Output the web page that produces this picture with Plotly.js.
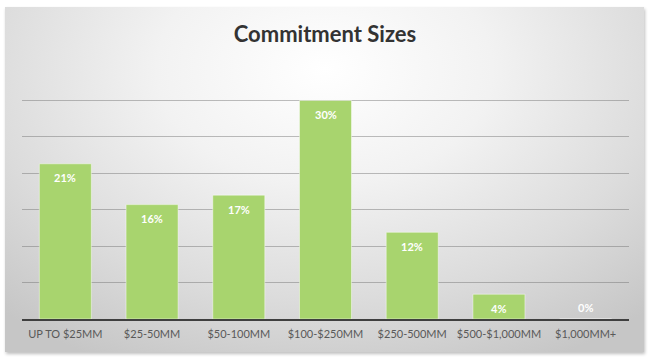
<!DOCTYPE html>
<html>
<head>
<meta charset="utf-8">
<script src="https://cdn.plot.ly/plotly-3.0.1.min.js"></script>
<style>
  html, body { margin: 0; padding: 0; background: #ffffff; }
  #wrap { position: relative; width: 650px; height: 358px; overflow: hidden; background: #ffffff; }
  #frame {
    position: absolute; left: 5px; top: 7px; width: 639px; height: 345px;
    background: radial-gradient(ellipse 75% 95% at 50% 18%, #ffffff 0%, #f2f2f2 35%, #dcdcdc 70%, #c6c6c6 100%);
    box-shadow: 1px 2px 3px rgba(0,0,0,0.25);
  }
  #chart { position: absolute; left: 0; top: 0; width: 650px; height: 358px; }
</style>
</head>
<body>
<div id="wrap">
  <div id="frame"></div>
  <div id="chart"></div>
</div>
<script>
const categories = ["UP TO $25MM", "$25-50MM", "$50-100MM", "$100-$250MM", "$250-500MM", "$500-$1,000MM", "$1,000MM+"];
const shares = [21.3, 15.7, 17.0, 30.0, 11.9, 3.4, 0];
const labels = ["21%", "16%", "17%", "30%", "12%", "4%", "0%"];
const yTicks = [0, 5, 10, 15, 20, 25, 30, 35];

const annotations = categories.map((c, i) => ({
  x: c, y: shares[i], xref: 'x', yref: 'y',
  text: '<b>' + labels[i] + '</b>', showarrow: false,
  yanchor: 'middle', yshift: shares[i] > 0 ? -14 : 12,
  font: { family: 'Lato, sans-serif', size: 11, color: '#ffffff' }
}));

const trace = {
  type: 'bar',
  x: categories,
  y: shares,
  marker: { color: '#a8d46e', line: { color: 'rgba(255,255,255,0.45)', width: 1 } },
  hoverinfo: 'skip'
};

const layout = {
  width: 650, height: 358,
  paper_bgcolor: 'rgba(0,0,0,0)',
  plot_bgcolor: 'rgba(0,0,0,0)',
  margin: { l: 22, r: 21, t: 64, b: 39 },
  bargap: 0.4,
  showlegend: false,
  title: {
    text: '<b>Commitment Sizes</b>',
    x: 0.5, xanchor: 'center', y: 0.905, yanchor: 'middle', yref: 'container',
    font: { family: 'Lato, sans-serif', size: 22, color: '#333333' }
  },
  xaxis: {
    type: 'category',
    showgrid: false, zeroline: false,
    showline: true, linecolor: '#3f3f3f', linewidth: 1.5,
    ticks: '', ticklabelstandoff: 4,
    tickfont: { family: 'Lato, sans-serif', size: 11, color: '#595959' }
  },
  yaxis: {
    range: [0, 35], tickvals: yTicks, showticklabels: false,
    showgrid: true, gridcolor: 'rgba(110,110,110,0.45)', gridwidth: 1,
    zeroline: false, showline: false, ticks: ''
  },
  annotations: annotations
};

Plotly.newPlot('chart', [trace], layout, { displayModeBar: false, staticPlot: true });
</script>
</body>
</html>
